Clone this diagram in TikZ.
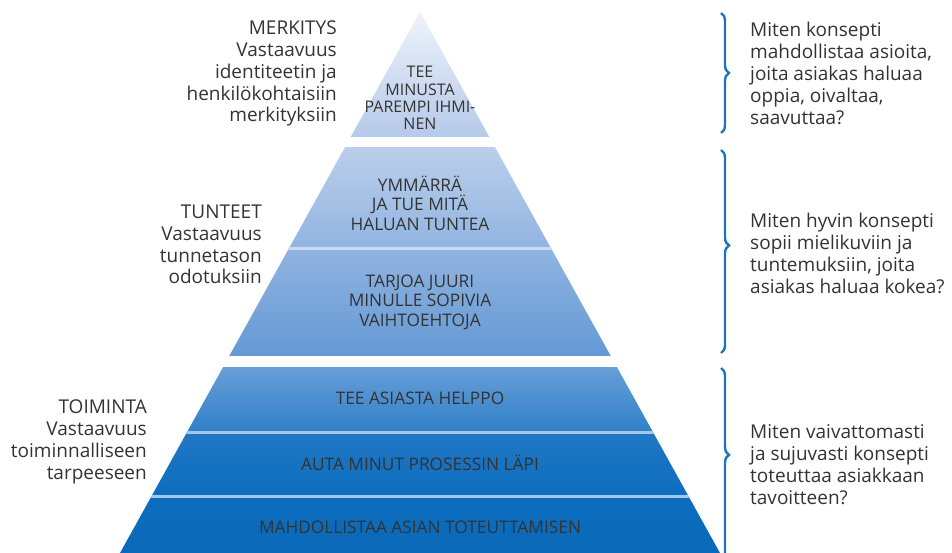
\documentclass[tikz,border=0pt]{standalone}
\usepackage{fontspec}
\setmainfont{Open Sans}
\usetikzlibrary{decorations.pathreplacing}

\definecolor{txtgray}{HTML}{333333}
\definecolor{bracecol}{HTML}{1C74C0}
\definecolor{topA}{HTML}{EEF3FA}
\definecolor{topB}{HTML}{B5C9E9}
\definecolor{midA}{HTML}{BBCEEB}
\definecolor{midB}{HTML}{6499D5}
\definecolor{lowA}{HTML}{689ED7}
\definecolor{lowB}{HTML}{2F80C8}
\definecolor{lowC}{HTML}{2177C4}
\definecolor{lowD}{HTML}{0C6EBF}
\definecolor{lowE}{HTML}{0A69B8}
\definecolor{lineA}{HTML}{C7D9F0}
\definecolor{lineB}{HTML}{A6C6EA}

\begin{document}
\begin{tikzpicture}[x=1pt,y=-1pt,
side/.style={align=right,anchor=north east,inner sep=0pt,text=txtgray,font=\fontsize{19}{21.7}\selectfont},
ask/.style={align=left,anchor=north west,inner sep=0pt,text=txtgray,font=\fontsize{19}{22}\selectfont},
level/.style={align=center,inner sep=0pt,text=txtgray,font=\fontsize{17.3}{19.5}\selectfont},
divider/.style={line width=3pt},
curly/.style={decorate,decoration={brace,amplitude=8pt,aspect=#1},draw=bracecol,line width=2.4pt}]

\useasboundingbox (0,0) rectangle (952,553);

\begin{scope}
\clip (420,12) -- (720,553) -- (120,553) -- cycle;
\shade[top color=topA,bottom color=topB] (100,12) rectangle (740,137);
\shade[top color=midA,bottom color=midB] (100,148) rectangle (740,355);
\shade[top color=lowA,bottom color=lowB] (100,367) rectangle (740,432);
\shade[top color=lowC,bottom color=lowD] (100,432) rectangle (740,496);
\shade[top color=lowD,bottom color=lowE] (100,496) rectangle (740,553);
\draw[divider,draw=lineA] (100,248) -- (740,248);
\draw[divider,draw=lineB] (100,432) -- (740,432);
\draw[divider,draw=lineB] (100,496) -- (740,496);
\end{scope}

\node[level,font=\fontsize{16}{17.3}\selectfont] (parempi) at (420,98) {TEE\\MINUSTA\\PAREMPI IHMI-\\NEN};
\node[level] (ymmarra) at (420,203) {YMMÄRRÄ\\JA TUE MITÄ\\HALUAN TUNTEA};
\node[level] (tarjoa) at (420,302) {TARJOA JUURI\\MINULLE SOPIVIA\\VAIHTOEHTOJA};
\node[level] (helppo) at (420,398) {TEE ASIASTA HELPPO};
\node[level] (auta) at (420,463) {AUTA MINUT PROSESSIN LÄPI};
\node[level] (toteutus) at (420,527) {MAHDOLLISTAA ASIAN TOTEUTTAMISEN};

\node[side] (merkitys) at (337,21) {MERKITYS\\Vastaavuus\\identiteetin ja\\henkilökohtaisiin\\merkityksiin};
\node[side] (tunteet) at (262,205) {TUNTEET\\Vastaavuus\\tunnetason\\odotuksiin};
\node[side] (toiminta) at (147,400) {TOIMINTA\\Vastaavuus\\toiminnalliseen\\tarpeeseen};

\draw[curly=0.5] (721,13) -- (721,133);
\draw[curly=0.47] (721,150) -- (721,353);
\draw[curly=0.43] (721,368) -- (721,570);

\node[ask] (kysy1) at (750,22) {Miten konsepti\\mahdollistaa asioita,\\joita asiakas haluaa\\oppia, oivaltaa,\\saavuttaa?};
\node[ask] (kysy2) at (750,213) {Miten hyvin konsepti\\sopii mielikuviin ja\\tuntemuksiin, joita\\asiakas haluaa kokea?};
\node[ask] (kysy3) at (750,424) {Miten vaivattomasti\\ja sujuvasti konsepti\\toteuttaa asiakkaan\\tavoitteen?};

\end{tikzpicture}
\end{document}
